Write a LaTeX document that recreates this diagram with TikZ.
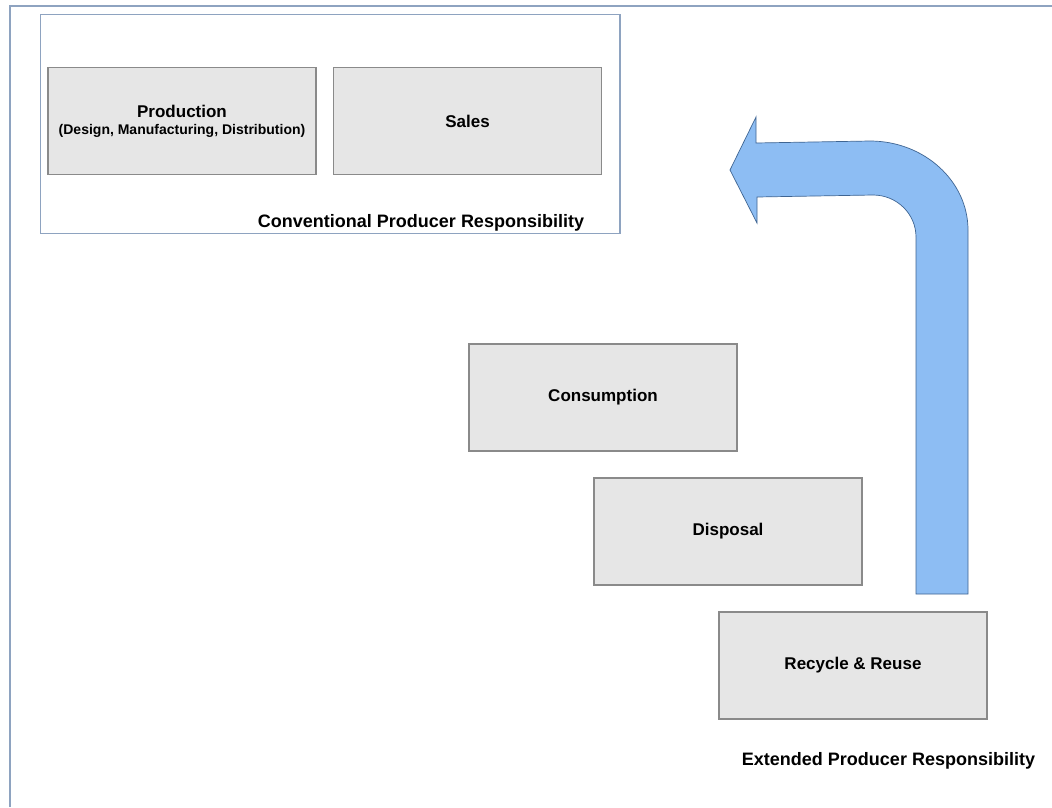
\documentclass[tikz,border=0pt]{standalone}
\usepackage{fontspec}
\setmainfont{Liberation Sans}
\definecolor{framecol}{HTML}{8EA3C0}
\definecolor{boxfill}{HTML}{E6E6E6}
\definecolor{boxline}{HTML}{8A8A8A}
\definecolor{arrowfill}{HTML}{8DBDF3}
\definecolor{arrowline}{HTML}{3F6592}
\tikzset{
  stagebox/.style={draw=boxline, fill=boxfill, line width=1.1pt, minimum width=268pt, minimum height=107pt, inner sep=0pt, align=center, font=\fontsize{17pt}{20pt}\selectfont\bfseries},
  framelabel/.style={inner sep=0pt, font=\fontsize{18pt}{21pt}\selectfont\bfseries, anchor=base},
  frameline/.style={draw=framecol, line width=2pt}
}
\begin{document}
\begin{tikzpicture}[x=1pt, y=-1pt]
\useasboundingbox[fill=white] (0,0) rectangle (1052,807);
% outer frame (open to right and bottom)
\draw[frameline] (9.5,807) -- (9.5,6) -- (1052,6);
% inner frame
\draw[frameline, line width=1.7pt] (40.5,14.5) rectangle (620,233.5);
% stage boxes
\node[stagebox] (prod) at (182,121) {Production\\[-3pt]{\fontsize{14pt}{16pt}\selectfont (Design, Manufacturing, Distribution)}};
\node[stagebox] (sales) at (467.5,121) {Sales};
\node[stagebox] (cons) at (603,397.5) {Consumption};
\node[stagebox] (disp) at (728,531.5) {Disposal};
\node[stagebox] (recy) at (853,665.5) {Recycle \& Reuse};
% labels
\node[framelabel] (conv) at (421,227.7) {Conventional Producer Responsibility};
\node[framelabel] (ext) at (888.5,765.7) {Extended Producer Responsibility};
% bent arrow
\draw[fill=arrowfill, draw=arrowline, line width=0.7pt, line join=miter]
  (916,594) -- (916,237)
  .. controls (916,214) and (897,195) .. (873,195)
  -- (757,197) -- (757,223) -- (730,170) -- (756,117) -- (756,143) -- (870,141)
  .. controls (924,141) and (968,181) .. (968,230)
  -- (968,594) -- cycle;
\end{tikzpicture}
\end{document}
